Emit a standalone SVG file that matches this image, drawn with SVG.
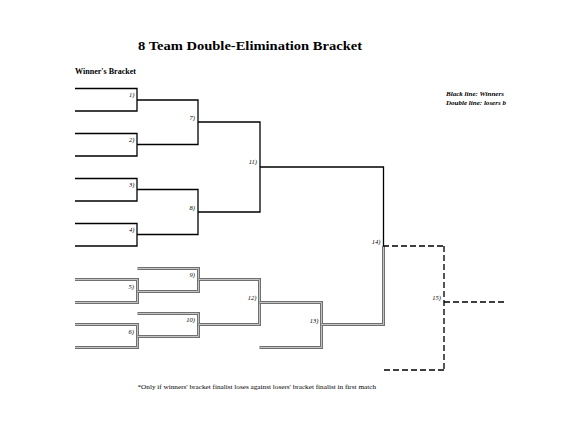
<svg xmlns="http://www.w3.org/2000/svg" width="568" height="439" viewBox="0 0 568 439">
<style>
text{font-family:"Liberation Serif","Times New Roman",serif;fill:#000}
.title{font-size:13.5px;font-weight:bold}
.sub{font-size:7.5px;font-weight:bold}
.leg{font-size:6.5px;font-weight:bold;font-style:italic}
.lbl{font-size:6.5px;font-style:italic;text-anchor:end}
.note{font-size:6.5px}
.w{fill:none;stroke:#000;stroke-width:1.3}
.lo{fill:none;stroke:#707070;stroke-width:3}
.li{fill:none;stroke:#c4c4c4;stroke-width:1}
.d{fill:none;stroke:#000;stroke-width:1.4;stroke-dasharray:6 3}
.dv{fill:none;stroke:#555;stroke-width:2;stroke-dasharray:6 3}
</style>
<rect width="568" height="439" fill="#fff"/>
<text class="title" x="138" y="50" textLength="224" lengthAdjust="spacingAndGlyphs">8 Team Double-Elimination Bracket</text>
<text class="sub" x="75" y="74" textLength="61" lengthAdjust="spacingAndGlyphs">Winner's Bracket</text>
<text class="leg" x="446" y="96" textLength="58" lengthAdjust="spacingAndGlyphs">Black line: Winners</text>
<text class="leg" x="446" y="105" textLength="60" lengthAdjust="spacingAndGlyphs">Double line: losers b</text>

<g id="m1"><path class="w" d="M75 88.5H137V111H75"/><text class="lbl" x="134.5" y="96.5">1)</text></g>
<g id="m2"><path class="w" d="M75 133.5H137V156H75"/><text class="lbl" x="134.5" y="142">2)</text></g>
<g id="m3"><path class="w" d="M75 178.5H137V201H75"/><text class="lbl" x="134.5" y="187">3)</text></g>
<g id="m4"><path class="w" d="M75 223.5H137V246H75"/><text class="lbl" x="134.5" y="232">4)</text></g>
<g id="m7"><path class="w" d="M137 100H198V144.5H137"/><text class="lbl" x="195" y="119.5">7)</text></g>
<g id="m8"><path class="w" d="M137 189.5H198V234.5H137"/><text class="lbl" x="195" y="209.5">8)</text></g>
<g id="m11"><path class="w" d="M198 122H260V212H198"/><text class="lbl" x="257" y="164">11)</text></g>

<g id="m5"><path class="lo" d="M75 279.5H137.5V302.5H75"/><path class="li" d="M75 279.5H137.5V302.5H75"/><text class="lbl" x="134" y="289">5)</text></g>
<g id="m6"><path class="lo" d="M75 324.5H137.5V347.5H75"/><path class="li" d="M75 324.5H137.5V347.5H75"/><text class="lbl" x="134" y="334">6)</text></g>
<g id="m9"><path class="lo" d="M137.5 268.5H198.5V291.5H137.5"/><path class="li" d="M137.5 268.5H198.5V291.5H137.5"/><text class="lbl" x="195" y="277">9)</text></g>
<g id="m10"><path class="lo" d="M137.5 313.5H198.5V336.5H137.5"/><path class="li" d="M137.5 313.5H198.5V336.5H137.5"/><text class="lbl" x="195" y="322">10)</text></g>
<g id="m12"><path class="lo" d="M198.5 279.5H259.5V324.5H198.5"/><path class="li" d="M198.5 279.5H259.5V324.5H198.5"/><text class="lbl" x="256.5" y="300">12)</text></g>
<g id="m13"><path class="lo" d="M259.5 302.5H321.5V347.5H259.5"/><path class="li" d="M259.5 302.5H321.5V347.5H259.5"/><text class="lbl" x="318.5" y="323">13)</text></g>

<g id="m14"><path class="w" d="M260 167H383.5V246"/><path class="lo" d="M321.5 324.5H383.5V246"/><path class="li" d="M321.5 324.5H383.5V246"/><text class="lbl" x="380.5" y="244">14)</text></g>
<g id="m15"><path class="d" d="M383 246H444"/><path class="dv" d="M444 246V370"/><path class="d" d="M444 370H383"/><path class="d" d="M444 302H507"/><text class="lbl" x="441" y="300">15)</text></g>

<g id="connectors"></g>

<text class="note" x="137.5" y="389" textLength="238.5" lengthAdjust="spacingAndGlyphs">*Only if winners' bracket finalist loses against losers' bracket finalist in first match</text>
</svg>
